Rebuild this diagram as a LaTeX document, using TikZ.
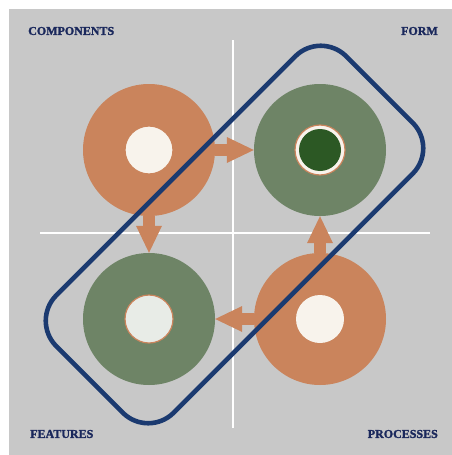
\documentclass[tikz,border=0pt]{standalone}
\usepackage{xcolor}
\usepackage{fontspec}
\newfontfamily\cornerfont{Liberation Serif}[BoldFeatures={FakeBold=1.6}]
\usepackage{tikz}
\usetikzlibrary{
    arrows.meta % pontas de seta
}
\definecolor{panel}{RGB}{200,200,200}
\definecolor{clay}{RGB}{202,132,92}
\definecolor{sage}{RGB}{110,132,102}
\definecolor{moss}{RGB}{44,88,36}
\definecolor{cream}{RGB}{248,243,236}
\definecolor{mist}{RGB}{232,236,231}
\definecolor{navy}{RGB}{27,58,112}
\definecolor{ink}{RGB}{26,40,92}

\begin{document}
\begin{tikzpicture}[x=1pt,y=-1pt]
    % styles
    \tikzstyle{ring}  = [circle, inner sep=0pt, minimum size=132pt]
    \tikzstyle{core}  = [circle, inner sep=0pt, minimum size=48pt, draw=clay, line width=1.2pt]
    \tikzstyle{axis}  = [white, line width=2.6pt]
    \tikzstyle{push}  = [draw=clay, line width=12pt,
                         -{Triangle[length=27pt, width=26pt, line width=0pt]}]
    \tikzstyle{tag}   = [text=ink, font=\cornerfont\bfseries\fontsize{12}{12}\selectfont, inner sep=0pt]
    \tikzstyle{frame} = [rectangle, draw=navy, line width=4.6pt, rounded corners=36pt,
                         minimum width=410pt, minimum height=166pt, inner sep=0pt]
    % background
    \useasboundingbox (0,0) rectangle (452,455);
    \fill[panel] (9,9) rectangle (452,455);
    % cross
    \draw[axis] (233,40) -- (233,428);
    \draw[axis] (40,233) -- (430,233);
    % rings
    \node[ring, fill=clay] (comp) at (149,150) {};
    \node[ring, fill=sage] (form) at (320,150) {};
    \node[ring, fill=sage] (feat) at (149,319) {};
    \node[ring, fill=clay] (proc) at (320,319) {};
    % centres
    \node[core, fill=cream] (compcore) at (comp) {};
    \node[core, fill=cream, minimum size=50pt] (formcore) at (form) {};
    \node[circle, fill=moss, inner sep=0pt, minimum size=42pt] (formdot) at (form) {};
    \node[core, fill=mist] (featcore) at (feat) {};
    \node[core, fill=cream, draw=none] (proccore) at (proc) {};
    % arrows
    \draw[push] (comp) -- (form);
    \draw[push] (comp) -- (feat);
    \draw[push] (proc) -- (form);
    \draw[push] (proc) -- (feat);
    % loop
    \node[frame, rotate=45] (loop) at (234.5,234.5) {};
    % corner labels
    \node[tag, anchor=west] (comptag) at (28,31)  {COMPONENTS};
    \node[tag, anchor=east] (formtag) at (438,31) {FORM};
    \node[tag, anchor=west] (feattag) at (30,434) {FEATURES};
    \node[tag, anchor=east] (proctag) at (438,434) {PROCESSES};
\end{tikzpicture}
\end{document}
